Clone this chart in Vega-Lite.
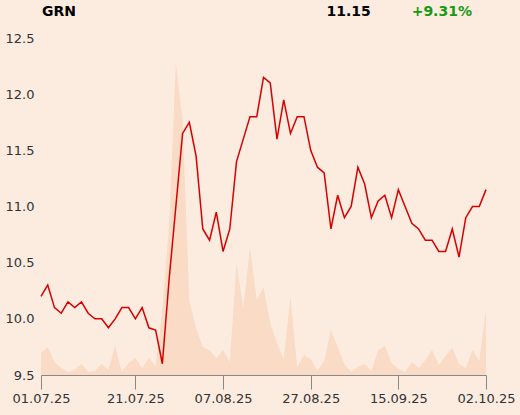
{
  "$schema": "https://vega.github.io/schema/vega-lite/v6.json",
  "width": 445,
  "height": 337,
  "autosize": {"type": "none"},
  "padding": {"left": 41, "top": 38, "right": 34, "bottom": 40},
  "background": "#fcece0",
  "config": {"view": {"stroke": null}, "font": "DejaVu Sans"},
  "data": {"values": [
    {"date": "01.07.25", "price": 10.2, "volume": 22},
    {"date": "02.07.25", "price": 10.3, "volume": 28},
    {"date": "03.07.25", "price": 10.1, "volume": 13},
    {"date": "04.07.25", "price": 10.05, "volume": 7},
    {"date": "07.07.25", "price": 10.15, "volume": 3},
    {"date": "08.07.25", "price": 10.1, "volume": 5},
    {"date": "09.07.25", "price": 10.15, "volume": 11},
    {"date": "10.07.25", "price": 10.05, "volume": 3},
    {"date": "11.07.25", "price": 10.0, "volume": 4},
    {"date": "14.07.25", "price": 10.0, "volume": 11},
    {"date": "15.07.25", "price": 9.92, "volume": 5},
    {"date": "16.07.25", "price": 10.0, "volume": 29},
    {"date": "17.07.25", "price": 10.1, "volume": 3},
    {"date": "18.07.25", "price": 10.1, "volume": 12},
    {"date": "21.07.25", "price": 10.0, "volume": 17},
    {"date": "22.07.25", "price": 10.1, "volume": 7},
    {"date": "23.07.25", "price": 9.92, "volume": 17},
    {"date": "24.07.25", "price": 9.9, "volume": 9},
    {"date": "25.07.25", "price": 9.6, "volume": 66},
    {"date": "28.07.25", "price": 10.35, "volume": 150},
    {"date": "29.07.25", "price": 11.0, "volume": 312},
    {"date": "30.07.25", "price": 11.65, "volume": 255},
    {"date": "31.07.25", "price": 11.75, "volume": 74},
    {"date": "01.08.25", "price": 11.45, "volume": 47},
    {"date": "04.08.25", "price": 10.8, "volume": 28},
    {"date": "05.08.25", "price": 10.7, "volume": 25},
    {"date": "06.08.25", "price": 10.95, "volume": 17},
    {"date": "07.08.25", "price": 10.6, "volume": 25},
    {"date": "08.08.25", "price": 10.8, "volume": 13},
    {"date": "11.08.25", "price": 11.4, "volume": 112},
    {"date": "12.08.25", "price": 11.6, "volume": 67},
    {"date": "13.08.25", "price": 11.8, "volume": 128},
    {"date": "14.08.25", "price": 11.8, "volume": 75},
    {"date": "18.08.25", "price": 12.15, "volume": 88},
    {"date": "19.08.25", "price": 12.1, "volume": 52},
    {"date": "20.08.25", "price": 11.6, "volume": 32},
    {"date": "21.08.25", "price": 11.95, "volume": 15},
    {"date": "22.08.25", "price": 11.65, "volume": 78},
    {"date": "25.08.25", "price": 11.8, "volume": 8},
    {"date": "26.08.25", "price": 11.8, "volume": 20},
    {"date": "27.08.25", "price": 11.5, "volume": 16},
    {"date": "28.08.25", "price": 11.35, "volume": 4},
    {"date": "29.08.25", "price": 11.3, "volume": 14},
    {"date": "01.09.25", "price": 10.8, "volume": 45},
    {"date": "02.09.25", "price": 11.1, "volume": 28},
    {"date": "03.09.25", "price": 10.9, "volume": 11},
    {"date": "04.09.25", "price": 11.0, "volume": 3},
    {"date": "05.09.25", "price": 11.35, "volume": 8},
    {"date": "08.09.25", "price": 11.2, "volume": 11},
    {"date": "09.09.25", "price": 10.9, "volume": 4},
    {"date": "10.09.25", "price": 11.05, "volume": 25},
    {"date": "11.09.25", "price": 11.1, "volume": 29},
    {"date": "12.09.25", "price": 10.9, "volume": 12},
    {"date": "15.09.25", "price": 11.15, "volume": 6},
    {"date": "16.09.25", "price": 11.0, "volume": 3},
    {"date": "17.09.25", "price": 10.85, "volume": 13},
    {"date": "18.09.25", "price": 10.8, "volume": 7},
    {"date": "19.09.25", "price": 10.7, "volume": 15},
    {"date": "22.09.25", "price": 10.7, "volume": 25},
    {"date": "23.09.25", "price": 10.6, "volume": 10},
    {"date": "24.09.25", "price": 10.6, "volume": 19},
    {"date": "25.09.25", "price": 10.8, "volume": 27},
    {"date": "26.09.25", "price": 10.55, "volume": 11},
    {"date": "29.09.25", "price": 10.9, "volume": 7},
    {"date": "30.09.25", "price": 11.0, "volume": 25},
    {"date": "01.10.25", "price": 11.0, "volume": 14},
    {"date": "02.10.25", "price": 11.15, "volume": 65}
  ]},
  "encoding": {
    "x": {
      "field": "date", "type": "nominal", "sort": null,
      "scale": {"type": "point", "padding": 0},
      "axis": {
        "values": ["01.07.25", "21.07.25", "07.08.25", "27.08.25", "15.09.25", "02.10.25"],
        "title": null, "labelAngle": 0, "grid": false,
        "domainColor": "#888888", "tickColor": "#888888", "tickSize": 14,
        "labelPadding": 3, "labelFont": "DejaVu Sans", "labelFontSize": 13, "labelColor": "#333333"
      }
    }
  },
  "layer": [
    {
      "mark": {"type": "area", "color": "#f9dbc6", "opacity": 1},
      "encoding": {
        "y": {"field": "volume", "type": "quantitative", "scale": {"domain": [0, 337]}, "axis": null}
      }
    },
    {
      "layer": [
        {
          "mark": {"type": "line", "color": "#d60000", "strokeWidth": 1.5},
          "encoding": {
            "y": {
              "field": "price", "type": "quantitative",
              "scale": {"domain": [9.5, 12.5], "nice": false, "zero": false},
              "axis": {
                "values": [9.5, 10, 10.5, 11, 11.5, 12, 12.5], "format": ".1f",
                "title": null, "domain": false, "ticks": false,
                "gridColor": "#b5b5b5", "gridWidth": 1,
                "labelPadding": 7, "labelFont": "DejaVu Sans", "labelFontSize": 13, "labelColor": "#333333",
                "zindex": 1
              }
            }
          }
        },
        {
          "data": {"values": [{}]},
          "mark": {"type": "text", "text": "GRN", "font": "DejaVu Sans", "fontSize": 14, "fontWeight": "bold", "color": "#000000", "align": "left", "baseline": "alphabetic", "dx": 1},
          "encoding": {"x": {"datum": "01.07.25"}, "y": {"datum": 12.7}}
        },
        {
          "data": {"values": [{}]},
          "mark": {"type": "text", "text": "11.15", "font": "DejaVu Sans", "fontSize": 14, "fontWeight": "bold", "color": "#000000", "align": "center", "baseline": "alphabetic", "dx": -2.5},
          "encoding": {"x": {"datum": "04.09.25"}, "y": {"datum": 12.7}}
        },
        {
          "data": {"values": [{}]},
          "mark": {"type": "text", "text": "+9.31%", "font": "DejaVu Sans", "fontSize": 14, "fontWeight": "bold", "color": "#139b13", "align": "center", "baseline": "alphabetic", "dx": 3},
          "encoding": {"x": {"datum": "23.09.25"}, "y": {"datum": 12.7}}
        }
      ]
    }
  ],
  "resolve": {"scale": {"y": "independent"}}
}
